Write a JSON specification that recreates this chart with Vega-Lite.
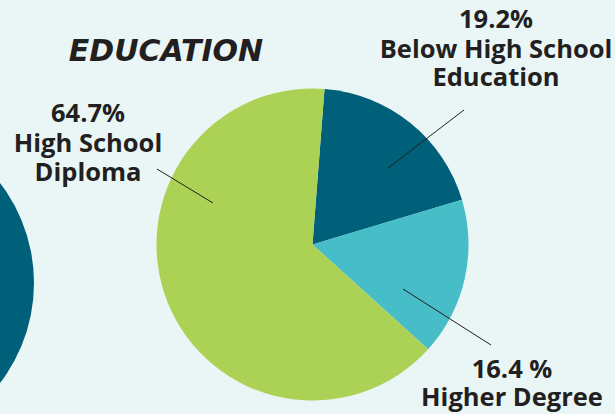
{
  "$schema": "https://vega.github.io/schema/vega-lite/v6.json",
  "width": 615,
  "height": 414,
  "autosize": "none",
  "padding": 0,
  "background": "#e9f6f5",
  "config": {"view": {"stroke": null}},
  "datasets": {
    "slices": [
      {"category": "Below High School Education", "pct": 19.2, "order": 1},
      {"category": "Higher Degree", "pct": 16.4, "order": 2},
      {"category": "High School Diploma", "pct": 64.7, "order": 3}
    ],
    "labels": [
      {"x": 496, "y": 20, "text": "19.2%"},
      {"x": 496, "y": 50, "text": "Below High School"},
      {"x": 496, "y": 78, "text": "Education"},
      {"x": 88, "y": 114, "text": "64.7%"},
      {"x": 88, "y": 144, "text": "High School"},
      {"x": 88, "y": 173, "text": "Diploma"},
      {"x": 512, "y": 370, "text": "16.4 %"},
      {"x": 512, "y": 398, "text": "Higher Degree"}
    ],
    "leaders": [
      {"line": "a", "x": 388, "y": 168},
      {"line": "a", "x": 464, "y": 110},
      {"line": "b", "x": 157, "y": 169},
      {"line": "b", "x": 213, "y": 203},
      {"line": "c", "x": 403, "y": 289},
      {"line": "c", "x": 491, "y": 345}
    ],
    "other": [{"x": -130, "y": 283}]
  },
  "encoding": {
    "x": {"type": "quantitative", "scale": {"domain": [0, 615], "nice": false, "zero": false}, "axis": null},
    "y": {"type": "quantitative", "scale": {"domain": [414, 0], "nice": false, "zero": false}, "axis": null}
  },
  "layer": [
    {
      "data": {"name": "other"},
      "mark": {"type": "point", "shape": "circle", "filled": true, "opacity": 1, "color": "#005f79", "size": 107584},
      "encoding": {
        "x": {"field": "x", "type": "quantitative"},
        "y": {"field": "y", "type": "quantitative"}
      }
    },
    {
      "data": {"name": "slices"},
      "mark": {"type": "arc", "outerRadius": 156},
      "encoding": {
        "x": {"datum": 312.5, "type": "quantitative"},
        "y": {"datum": 244.5, "type": "quantitative"},
        "theta": {"field": "pct", "type": "quantitative", "stack": true, "scale": {"range": [0.077, 6.3602]}},
        "order": {"field": "order", "type": "quantitative"},
        "color": {
          "field": "category", "type": "nominal", "legend": null,
          "scale": {"domain": ["Below High School Education", "Higher Degree", "High School Diploma"], "range": ["#005f79", "#47bdc8", "#abd155"]}
        }
      }
    },
    {
      "data": {"name": "leaders"},
      "mark": {"type": "line", "color": "#231f20", "strokeWidth": 1},
      "encoding": {
        "x": {"field": "x", "type": "quantitative"},
        "y": {"field": "y", "type": "quantitative"},
        "detail": {"field": "line"}
      }
    },
    {
      "data": {"name": "labels"},
      "mark": {"type": "text", "font": "Open Sans", "fontWeight": "bold", "fontSize": 25.5, "color": "#231f20", "align": "center", "baseline": "middle"},
      "encoding": {
        "x": {"field": "x", "type": "quantitative"},
        "y": {"field": "y", "type": "quantitative"},
        "text": {"field": "text"}
      }
    },
    {
      "data": {"values": [{"x": 166, "y": 52, "text": "EDUCATION"}]},
      "mark": {"type": "text", "font": "DejaVu Sans", "fontWeight": "bold", "fontStyle": "italic", "fontSize": 30, "color": "#231f20", "align": "center", "baseline": "middle"},
      "encoding": {
        "x": {"field": "x", "type": "quantitative"},
        "y": {"field": "y", "type": "quantitative"},
        "text": {"field": "text"}
      }
    }
  ]
}
